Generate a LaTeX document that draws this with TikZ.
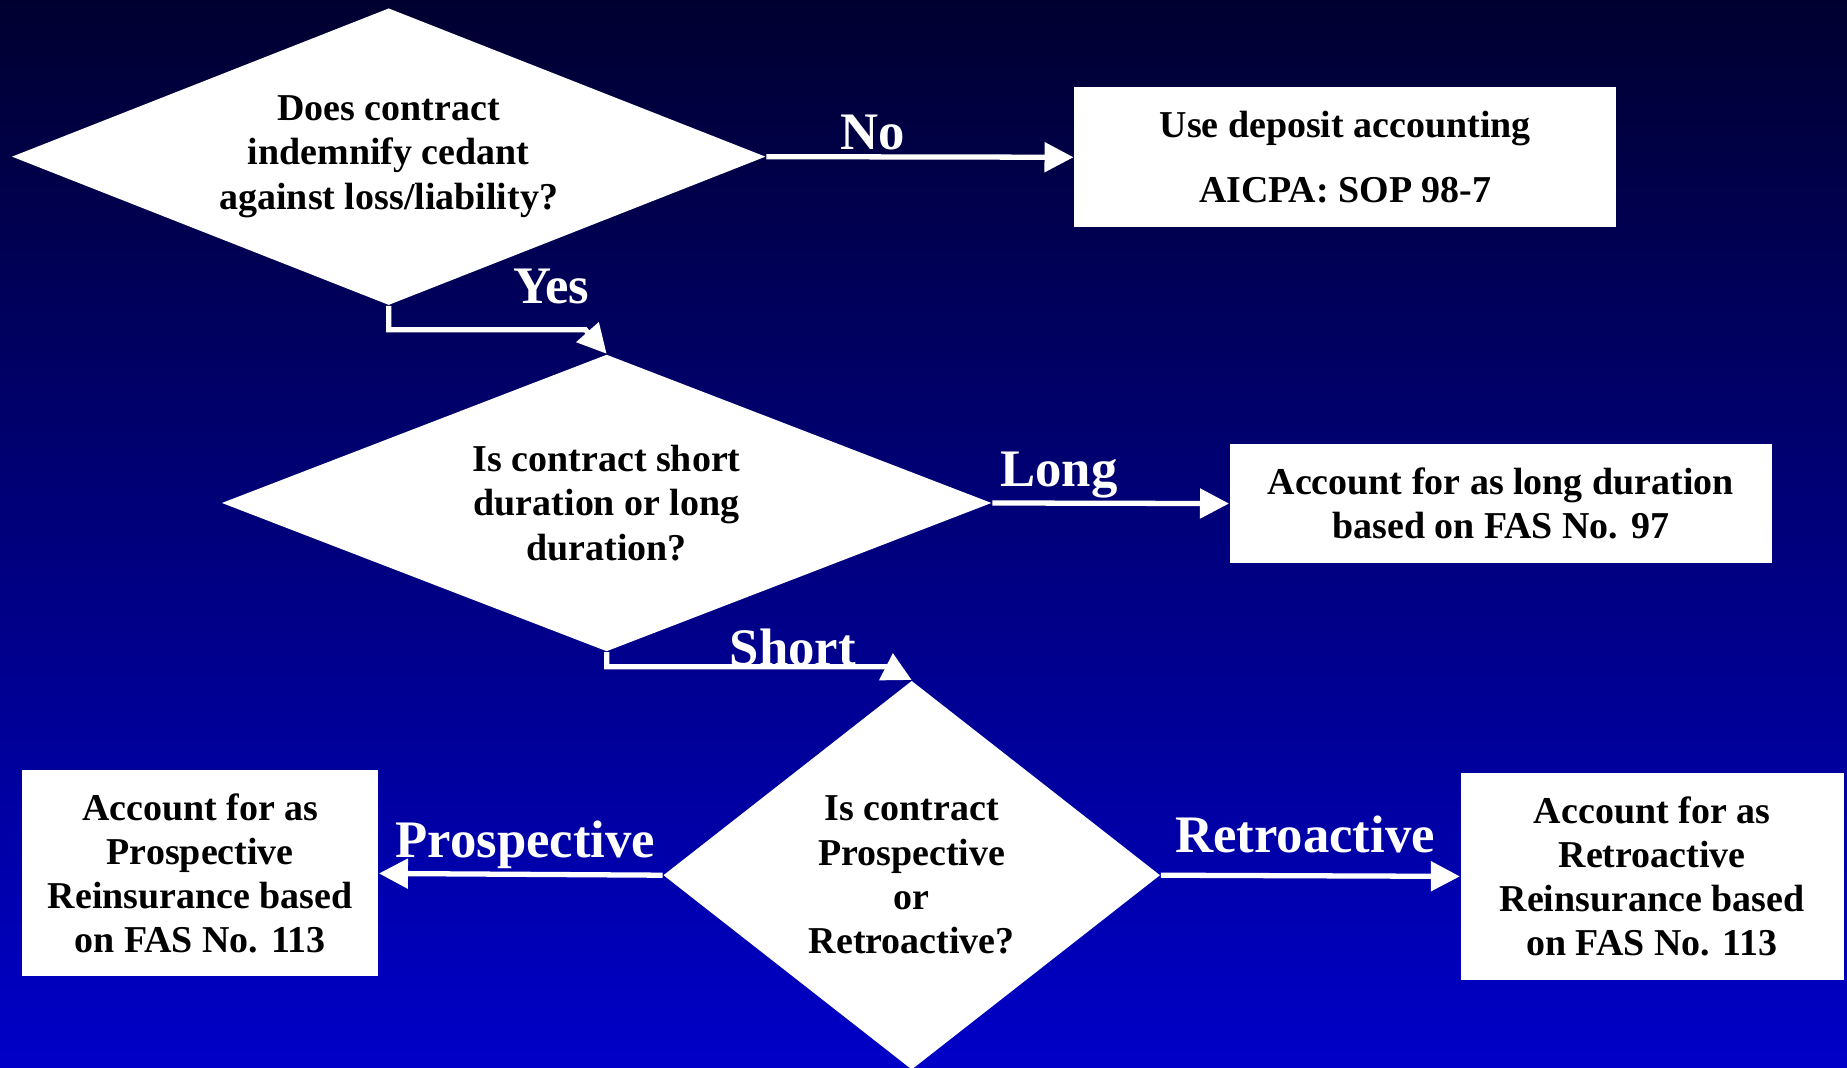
\documentclass[tikz,border=0pt]{standalone}
\usepackage{fontspec}
\setmainfont{Liberation Serif}
\usetikzlibrary{shapes.geometric,arrows.meta}

\definecolor{bgtop}{RGB}{0,0,48}
\definecolor{bgbot}{RGB}{0,0,200}

\begin{document}
\begin{tikzpicture}[
    x=0.01178cm, y=-0.01178cm,
    decision/.style={diamond, fill=white, inner sep=0pt, align=center,
      font=\bfseries\fontsize{10.8}{12.6}\selectfont},
    outcome/.style={rectangle, fill=white, inner sep=0pt, align=center,
      font=\bfseries\fontsize{10.8}{12.6}\selectfont},
    edge/.style={-{Triangle[length=0.29cm, width=0.29cm]}, white, line width=1.5pt},
    answer/.style={white, anchor=base, inner sep=0pt,
      font=\bfseries\fontsize{15}{18}\selectfont}
  ]

    % Background
    \useasboundingbox (0,0) rectangle (1568,906);
    \shade[top color=bgtop, bottom color=bgbot] (0,0) rectangle (1568,906);

    % Decisions
    \node[decision, shape aspect=2.54, minimum width=7.54cm, minimum height=2.97cm] (indemnify) at (330,133)
      {Does contract\\indemnify cedant\\against loss/liability?};
    \node[decision, shape aspect=2.59, minimum width=7.70cm, minimum height=2.97cm] (duration) at (515,427)
      {Is contract short\\duration or long\\duration?};
    \node[decision, shape aspect=1.28, minimum width=4.97cm, minimum height=3.89cm] (timing) at (774,743)
      {Is contract\\Prospective\\or\\Retroactive?};

    % Outcomes
    \node[outcome, minimum width=5.42cm, minimum height=1.40cm] (deposit) at (1142,133.5)
      {Use deposit accounting\\[6pt]AICPA: SOP 98-7};
    \node[outcome, minimum width=5.42cm, minimum height=1.19cm] (longdur) at (1274,427.5)
      {Account for as long duration\\based on FAS No. 97};
    \node[outcome, minimum width=3.56cm, minimum height=2.06cm] (prosp) at (170,741.5)
      {Account for as\\Prospective\\Reinsurance based\\on FAS No. 113};
    \node[outcome, minimum width=3.83cm, minimum height=2.07cm] (retro) at (1402.5,744)
      {Account for as\\Retroactive\\Reinsurance based\\on FAS No. 113};

    % Bends of the elbow connectors
    \coordinate (yesbend) at (497,280);
    \coordinate (shortbend) at (752,566);

    % Connectors
    \draw[edge] (indemnify.east) -- (deposit.west);
    \draw[edge] (indemnify.south) |- (yesbend) -- (duration.north);
    \draw[edge] (duration.east) -- (longdur.west);
    \draw[edge] (duration.south) |- (shortbend) -- (timing.north);
    \draw[edge] (timing.west) -- (prosp.east);
    \draw[edge] (timing.east) -- (retro.west);

    % Answers
    \node[answer] (no) at (741,127) {No};
    \node[answer] (yes) at (468,258) {Yes};
    \node[answer] (long) at (899,413) {Long};
    \node[answer] (short) at (673,565) {Short};
    \node[answer] (prospective) at (446,728) {Prospective};
    \node[answer] (retroactive) at (1108,724) {Retroactive};

\end{tikzpicture}
\end{document}
